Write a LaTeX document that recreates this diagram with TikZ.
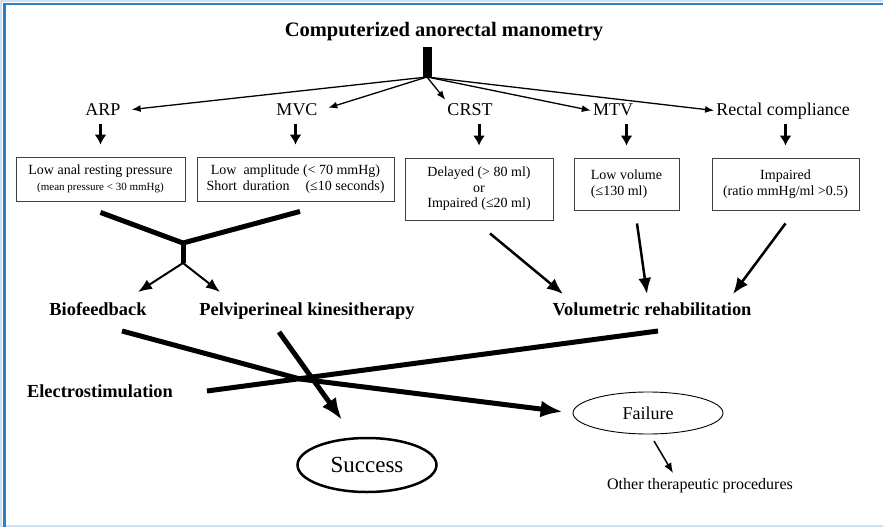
\documentclass[tikz,border=0pt]{standalone}
\usepackage{fontspec}
\setmainfont{Liberation Serif}
\usetikzlibrary{arrows.meta,shapes.geometric}

\definecolor{framebl}{RGB}{47,125,196}
\definecolor{framelt}{RGB}{205,225,243}

\begin{document}
\begin{tikzpicture}[x=1pt,y=-1pt,
    lbl/.style={font=\fontsize{18}{20}\selectfont, anchor=base, inner sep=2pt, text height=13pt, text depth=4pt},
    blbl/.style={font=\fontsize{18.4}{20}\selectfont\bfseries, anchor=base, inner sep=2pt},
    cbox/.style={draw=black!75, line width=0.9pt, align=center, inner sep=0pt,
        font=\fontsize{14}{15.5}\selectfont},
    hubarrow/.style={line width=1.3pt, -{Latex[length=9pt,width=7pt]}},
    downarrow/.style={line width=3pt, -{Latex[length=10pt,width=12pt]}},
    thickline/.style={line width=5pt},
    yarrow/.style={line width=2pt, -{Latex[length=14pt,width=11pt]}},
    volarrow/.style={line width=2.5pt, -{Latex[length=16pt,width=13pt]}},
    bigarrow/.style={line width=5pt, -{Latex[length=22pt,width=17pt]}},
    thinarrow/.style={line width=1.5pt, -{Latex[length=10pt,width=8pt]}},
]
\useasboundingbox (0,0) rectangle (883,527);

% frame
\draw[framelt, line width=2pt] (0,1) -- (883,1);
\draw[framelt, line width=2pt] (1,0) -- (1,527);
\draw[framelt, line width=2pt] (0,526) -- (883,526);
\draw[framebl, line width=2.5pt] (3,4) -- (883,4);
\draw[framebl, line width=3pt] (4.5,3) -- (4.5,527);

% top
\node[font=\fontsize{20.5}{24}\selectfont\bfseries, anchor=base] (title) at (444,37) {Computerized anorectal manometry};
\coordinate (bartop) at (427,47);
\coordinate (hub) at (427,77);
\draw[line width=9pt] (bartop) -- (hub);

\node[lbl] (arp) at (103,115) {ARP};
\node[lbl] (mvc) at (297,115) {MVC};
\node[lbl] (crst) at (470,115) {CRST};
\node[lbl] (mtv) at (613,115) {MTV};
\node[lbl] (rc) at (783,115) {Rectal compliance};

\draw[hubarrow, shorten >=9pt] (hub) -- (arp.east);
\draw[hubarrow, shorten >=9pt] (hub) -- (mvc.east);
\draw[hubarrow] (hub) -- (crst.north west);
\draw[hubarrow] (hub) -- (mtv.west);
\draw[hubarrow] (hub) -- (rc.west);

% findings
\node[cbox, minimum width=169pt, minimum height=44pt] (lowarp) at (100.5,179)
    {Low anal resting pressure\\{\fontsize{11}{15.5}\selectfont (mean pressure < 30 mmHg)}};
\node[cbox, minimum width=197pt, minimum height=44pt] (lowmvc) at (295.5,179)
    {Low\hspace{7pt}amplitude (< 70 mmHg)\\Short\hspace{6pt}duration\hspace{16pt}(≤10 seconds)};
\node[cbox, minimum width=148pt, minimum height=62pt] (crstbox) at (479,189)
    {Delayed (> 80 ml)\\or\\Impaired (≤20 ml)};
\node[cbox, minimum width=105pt, minimum height=52pt, align=left] (mtvbox) at (626.5,184)
    {Low volume\\(≤130 ml)};
\node[cbox, minimum width=147pt, minimum height=52pt] (rcbox) at (785.5,184)
    {Impaired\\(ratio mmHg/ml >0.5)};

\draw[downarrow, shorten <=3pt, shorten >=12pt] (lowarp.north |- arp.south) -- (lowarp.north);
\draw[downarrow, shorten <=3pt, shorten >=12pt] (lowmvc.north |- mvc.south) -- (lowmvc.north);
\draw[downarrow, shorten <=3pt, shorten >=12pt] (crstbox.north |- crst.south) -- (crstbox.north);
\draw[downarrow, shorten <=3pt, shorten >=12pt] (mtvbox.north |- mtv.south) -- (mtvbox.north);
\draw[downarrow, shorten <=3pt, shorten >=12pt] (rcbox.north |- rc.south) -- (rcbox.north);

% treatments
\node[blbl] (bio) at (98,315) {Biofeedback};
\node[blbl] (pelvi) at (307,315) {Pelviperineal kinesitherapy};
\node[blbl] (vol) at (652,315) {Volumetric rehabilitation};
\node[blbl] (electro) at (100,397) {Electrostimulation};

\coordinate (yl) at ([yshift=-11pt]lowarp.south);
\coordinate (yr) at ([xshift=4.5pt,yshift=-10pt]lowmvc.south);
\coordinate (yjoin) at (183,243);
\coordinate (yfoot) at (183,263);
\coordinate (biotip) at (138,292);
\coordinate (pelvitip) at (220,292);
\draw[thickline] (yl) -- (yjoin) -- (yr);
\draw[thickline] (yjoin) -- (yfoot);
\draw[yarrow] (yfoot) -- (biotip);
\draw[yarrow] (yfoot) -- (pelvitip);

\coordinate (v1) at ([xshift=11pt,yshift=-13pt]crstbox.south);
\coordinate (v2) at ([xshift=10.5pt,yshift=-13pt]mtvbox.south);
\coordinate (v3) at ([yshift=-13pt]rcbox.south);
\coordinate (v1tip) at (563,294);
\coordinate (v2tip) at (647,294);
\coordinate (v3tip) at (733,294);
\draw[volarrow] (v1) -- (v1tip);
\draw[volarrow] (v2) -- (v2tip);
\draw[volarrow] (v3) -- (v3tip);

% outcome
\node[draw, ellipse, line width=2.5pt, minimum width=139pt, minimum height=54pt, inner sep=0pt,
    font=\fontsize{23}{26}\selectfont] (success) at (367,465) {Success};
\node[draw, ellipse, line width=0.9pt, minimum width=150pt, minimum height=42pt, inner sep=0pt,
    font=\fontsize{18}{20}\selectfont] (failure) at (648,413) {Failure};
\node[font=\fontsize{16}{18}\selectfont, anchor=base] (other) at (700,489) {Other therapeutic procedures};

\coordinate (biofoot) at (122,331);
\coordinate (pelvifoot) at (279,332);
\coordinate (volfoot) at (658,331);
\coordinate (elend) at (207,391);
\coordinate (cross) at (300,379);
\coordinate (successtip) at (342,420);
\draw[bigarrow, shorten >=10pt] (biofoot) -- (cross) -- (failure.west);
\draw[bigarrow] (pelvifoot) -- (successtip);
\draw[thickline] (volfoot) -- (elend);

\coordinate (failfoot) at (654,441);
\coordinate (othertip) at (673,473);
\draw[thinarrow] (failfoot) -- (othertip);
\end{tikzpicture}
\end{document}
